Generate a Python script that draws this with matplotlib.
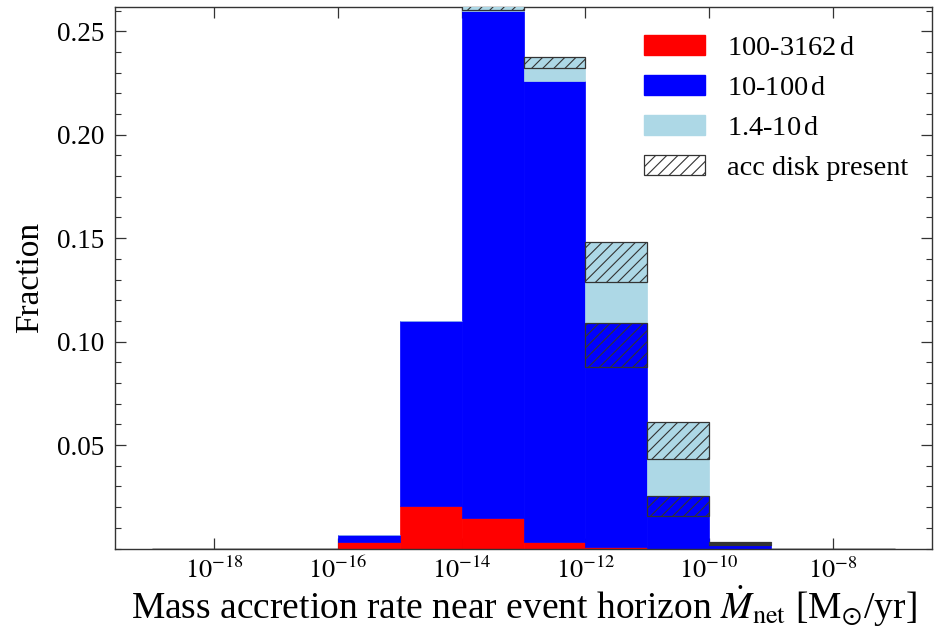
import numpy as np
import matplotlib
matplotlib.use("Agg")
import matplotlib.pyplot as plt
from matplotlib.patches import Patch
from matplotlib.ticker import FixedLocator, MultipleLocator, NullLocator, FixedFormatter

plt.rcParams['font.family'] = ['Liberation Serif', 'DejaVu Serif']
plt.rcParams['mathtext.fontset'] = 'stix'
plt.rcParams['hatch.linewidth'] = 0.8

# bin edges (log10 of accretion rate)
edge_exp = list(range(-19, -6))
# fractions per bin (stacked)
red_nodisk = [0, 0, 0, 0.0030, 0.0207, 0.0147, 0.0031, 0.0008, 0, 0, 0, 0]
red_disk = [0, 0, 0, 0, 0, 0, 0, 0, 0, 0, 0, 0]
blue_nodisk = [0, 0, 0, 0.0035, 0.0893, 0.2450, 0.2229, 0.0870, 0.0157, 0.0015, 0, 0]
blue_disk = [0, 0, 0, 0, 0, 0, 0, 0.0213, 0.0098, 0.0008, 0, 0]
lb_nodisk = [0, 0, 0, 0, 0, 0.0005, 0.0060, 0.0195, 0.0177, 0.0002, 0, 0]
lb_disk = [0, 0, 0, 0, 0, 0.0040, 0.0056, 0.0196, 0.0178, 0.0006, 0, 0]

labels = ['100-3162$\\,$d', '10-100$\\,$d', '1.4-10$\\,$d', 'acc disk present']
xtick_exp = [-18, -16, -14, -12, -10, -8]
ytick_vals = [0.05, 0.10, 0.15, 0.20, 0.25]

edges = 10.0 ** np.array(edge_exp, dtype=float)
left = edges[:-1]
width = edges[1:] - edges[:-1]

fig = plt.figure(figsize=(9.4, 6.31), dpi=100)
ax = fig.add_axes([115/940, 1 - 548.5/631, (932-115)/940, (548.5-7)/631])

RED = '#ff0000'
BLUE = '#0000ff'
LB = '#add8e6'

layers = [
    (red_nodisk, RED, False),
    (red_disk, RED, True),
    (blue_nodisk, BLUE, False),
    (blue_disk, BLUE, True),
    (lb_nodisk, LB, False),
    (lb_disk, LB, True),
]
bottom = np.zeros(len(left))
total = np.sum([np.array(l[0]) for l in layers], axis=0)
for vals, col, hatched in layers:
    vals = np.array(vals, dtype=float)
    if hatched:
        ecs = ['#333333' if (v > 0 or t == 0) else 'none' for v, t in zip(vals, total)]
        ax.bar(left, vals, width=width, bottom=bottom, align='edge', color=col,
               edgecolor=ecs, hatch='///', linewidth=0.9, zorder=3)
    else:
        ax.bar(left, vals, width=width, bottom=bottom, align='edge', color=col,
               edgecolor=col, linewidth=0.5, zorder=2)
    bottom = bottom + vals

ax.set_xscale('log')
ax.set_xlim(10 ** -19.6, 10 ** -6.4)
ax.set_ylim(0, 0.2617)

ax.xaxis.set_major_locator(FixedLocator([10.0 ** e for e in xtick_exp]))
ax.xaxis.set_major_formatter(FixedFormatter(['$10^{%d}$' % e for e in xtick_exp]))
ax.xaxis.set_minor_locator(NullLocator())
ax.yaxis.set_major_locator(FixedLocator(ytick_vals))
ax.set_yticklabels(['%.2f' % v for v in ytick_vals])
ax.yaxis.set_minor_locator(MultipleLocator(0.01))

ax.tick_params(axis='both', which='both', direction='in', top=True, right=True,
               color='#333333')
ax.tick_params(axis='both', which='major', length=8, width=0.9)
ax.tick_params(axis='both', which='minor', length=4, width=0.8)
ax.tick_params(axis='y', labelsize=19.5, pad=8)
ax.tick_params(axis='x', labelsize=19, pad=6)
for s in ax.spines.values():
    s.set_color('#333333')
    s.set_linewidth(1.0)

ax.set_ylabel('Fraction', fontsize=24, labelpad=8)
ax.set_xlabel('Mass accretion rate near event horizon $\\dot{M}_{\\mathrm{net}}$ [M$_{\\odot}$/yr]',
              fontsize=27, labelpad=0.5)

handles = [Patch(facecolor=RED, edgecolor=RED),
           Patch(facecolor=BLUE, edgecolor=BLUE),
           Patch(facecolor=LB, edgecolor=LB),
           Patch(facecolor='white', edgecolor='#333333', hatch='///', linewidth=0.9)]
fs = 20.4
leg = ax.legend(handles, labels, loc='upper left', bbox_to_anchor=(621/940, 1 - 12/631),
                bbox_transform=fig.transFigure, frameon=False, fontsize=fs,
                handlelength=2.15, handleheight=0.72, handletextpad=0.8,
                labelspacing=0.5, borderpad=0.3)

fig.savefig('out.png', dpi=100)
